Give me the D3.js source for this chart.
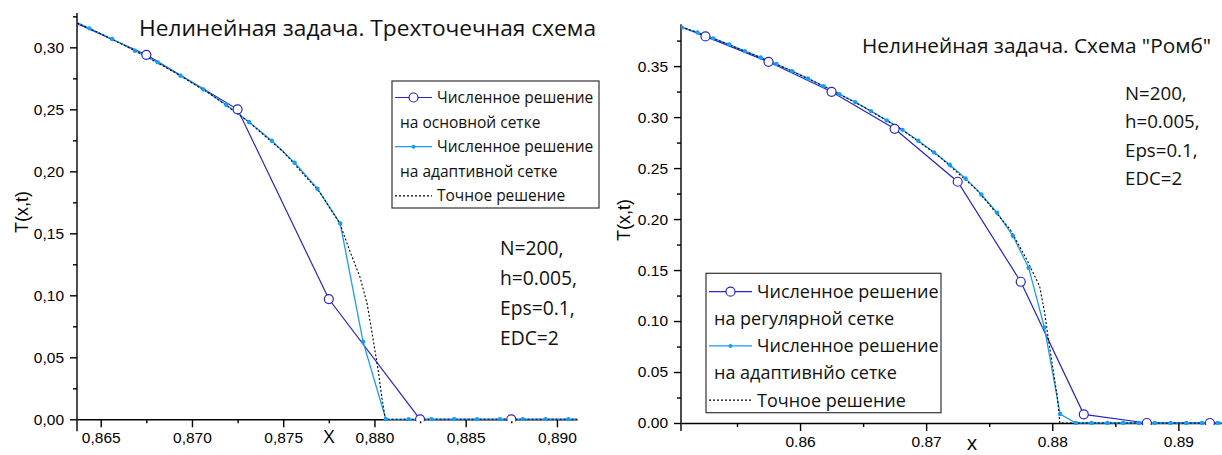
<!DOCTYPE html>
<html>
<head>
<meta charset="utf-8">
<script src="https://cdn.jsdelivr.net/npm/d3@7"></script>
<style>
body { margin: 0; background: #fff; }
svg { display: block; }
</style>
</head>
<body>
<script>
// ---- left panel: three-point scheme ----
var leftMainX = [0.8625, 0.8675, 0.8725, 0.8775, 0.8825, 0.8875, 0.8925];
var leftMainT = [0.327, 0.294, 0.250, 0.097, 0.000, 0.000, 0.000];

var leftAdaptX = [0.863125, 0.864375, 0.865625, 0.866875, 0.868125, 0.869375, 0.870625, 0.871875,
	0.873125, 0.874375, 0.875625, 0.876875, 0.878125, 0.879375, 0.880625, 0.881875,
	0.883125, 0.884375, 0.885625, 0.886875, 0.888125, 0.889375, 0.890625, 0.891875];
var leftAdaptT = [0.324, 0.3153, 0.3067, 0.2973, 0.2879, 0.2771, 0.2661, 0.2537,
	0.2398, 0.2247, 0.2069, 0.1860, 0.1579, 0.0626, 0, 0,
	0, 0, 0, 0, 0, 0, 0, 0];

var leftExactX = [0.8637, 0.8650, 0.8670, 0.8690, 0.8710, 0.8730, 0.8750, 0.8770, 0.8781,
	0.8787, 0.8792, 0.8796, 0.8799, 0.8802, 0.8804, 0.8806, 0.8920];
var leftExactT = [0.3196, 0.3110, 0.2964, 0.2803, 0.2624, 0.2412, 0.2158, 0.1832, 0.1580,
	0.1339, 0.1150, 0.0931, 0.0669, 0.0400, 0.0182, 0.0, 0.0];

var leftYTicks = [0, 0.05, 0.10, 0.15, 0.20, 0.25, 0.30];
var leftYMinor = [0.025, 0.075, 0.125, 0.175, 0.225, 0.275, 0.325];
var leftXTicks = [0.865, 0.870, 0.875, 0.880, 0.885, 0.890];
var leftXMinor = [0.8675, 0.8725, 0.8775, 0.8825, 0.8875];

// ---- right panel: "Romb" scheme ----
var rightMainX = [0.8475, 0.8525, 0.8575, 0.8625, 0.8675, 0.8725, 0.8775, 0.8825, 0.8875, 0.8925, 0.8975];
var rightMainT = [0.403, 0.3791, 0.3542, 0.3248, 0.2885, 0.2366, 0.1385, 0.0085, 0, 0, 0];

var rightAdaptX = [0.849375, 0.850625, 0.851875, 0.853125, 0.854375, 0.855625, 0.856875, 0.858125,
	0.859375, 0.860625, 0.861875, 0.863125, 0.864375, 0.865625, 0.866875, 0.868125,
	0.869375, 0.870625, 0.871875, 0.873125, 0.874375, 0.875625, 0.876875, 0.878125,
	0.879375, 0.880625, 0.881875, 0.883125, 0.884375, 0.885625, 0.886875, 0.888125,
	0.889375, 0.890625, 0.891875, 0.893125, 0.894375];
var rightAdaptT = [0.3935, 0.3879, 0.3830, 0.3772, 0.3713, 0.3647, 0.3585, 0.3520,
	0.3451, 0.3379, 0.3304, 0.3225, 0.3147, 0.3059, 0.2968, 0.2875,
	0.2768, 0.2654, 0.2532, 0.2399, 0.2242, 0.2062, 0.1836, 0.1523,
	0.0938, 0.0088, 0, 0, 0, 0, 0, 0,
	0, 0, 0, 0, 0];

var rightExactX = [0.8506, 0.8530, 0.8560, 0.8590, 0.8620, 0.8650, 0.8680, 0.8710, 0.8740,
	0.8767, 0.8780, 0.8790, 0.8794, 0.8797, 0.8801, 0.8804, 0.8806, 0.8950];
var rightExactT = [0.3885, 0.3778, 0.3628, 0.3472, 0.3296, 0.3103, 0.2884, 0.2617, 0.2289,
	0.1892, 0.1598, 0.1340, 0.1079, 0.0817, 0.0497, 0.0258, 0.0, 0.0];

var rightYTicks = [0, 0.05, 0.10, 0.15, 0.20, 0.25, 0.30, 0.35];
var rightYMinor = [0.025, 0.075, 0.125, 0.175, 0.225, 0.275, 0.325, 0.375];
var rightXTicks = [0.86, 0.87, 0.88, 0.89];
var rightXMinor = [0.855, 0.865, 0.875, 0.885];

var paramLines = ["N=200,", "h=0.005,", "Eps=0.1,", "EDC=2"];

var darkBlue = "#2525c8",
	lightBlue = "#1a9cf5",
	textFont = "'Open Sans', 'Noto Sans', sans-serif",
	tickFont = "'Liberation Sans', Arial, sans-serif";

var svg = d3.select("body").append("svg")
	.attr("width", 1222)
	.attr("height", 455);

function zip(xs, ys){
	return xs.map(function(x, i){ return {x: x, t: ys[i]}; });
}

function drawPanel(p){
	var x = d3.scaleLinear().domain(p.xDomain).range([p.left, p.right]);
	var y = d3.scaleLinear().domain(p.yDomain).range([p.bottom, p.top]);
	var g = svg.append("g");

	g.append("clipPath").attr("id", p.id + "clip")
		.append("rect")
		.attr("x", p.left).attr("y", p.top - 2)
		.attr("width", p.right - p.left).attr("height", p.bottom - p.top + 4);

	var fmt = function(f){
		return function(d){
			var s = d3.format(f)(d);
			return p.comma ? s.replace(".", ",") : s;
		};
	};

	// axes
	var yAxis = g.append("g").attr("transform", "translate(" + p.left + ",0)")
		.call(d3.axisLeft(y).tickValues(p.yTicks).tickFormat(fmt(".2f")).tickSize(7).tickPadding(6).tickSizeOuter(0));
	g.append("g").attr("transform", "translate(" + p.left + ",0)")
		.call(d3.axisLeft(y).tickValues(p.yMinor).tickFormat("").tickSize(4).tickSizeOuter(0))
		.select(".domain").remove();
	g.append("g").attr("transform", "translate(0," + p.bottom + ")")
		.call(d3.axisBottom(x).tickValues(p.xTicks).tickFormat(fmt(p.xFmt)).tickSize(8).tickPadding(5).tickSizeOuter(0));
	g.append("g").attr("transform", "translate(0," + p.bottom + ")")
		.call(d3.axisBottom(x).tickValues(p.xMinor).tickFormat("").tickSize(4).tickSizeOuter(0))
		.select(".domain").remove();

	yAxis.select(".domain").attr("d", "M0," + p.top + "V" + (p.bottom + p.axisTail));
	g.selectAll(".domain, .tick line").attr("stroke", "#000").attr("stroke-width", 1.4);
	g.selectAll(".tick text")
		.attr("fill", "#000")
		.style("font-family", tickFont)
		.style("font-size", "15.5px");

	var plot = g.append("g").attr("clip-path", "url(#" + p.id + "clip)");
	var line = d3.line().x(function(d){ return x(d.x); }).y(function(d){ return y(d.t); });

	var exact = zip(p.exactX, p.exactT),
		adapt = zip(p.adaptX, p.adaptT),
		main = zip(p.mainX, p.mainT);

	plot.append("path").datum(main)
		.attr("d", line).attr("fill", "none")
		.attr("stroke", darkBlue).attr("stroke-width", 1.2);
	plot.append("path").datum(adapt)
		.attr("d", line).attr("fill", "none")
		.attr("stroke", lightBlue).attr("stroke-width", 1.3);
	plot.append("path").datum(exact)
		.attr("d", line).attr("fill", "none")
		.attr("stroke", "#000").attr("stroke-width", 1.1)
		.attr("stroke-dasharray", "2,2");
	plot.selectAll(".dot").data(adapt).enter().append("circle")
		.attr("cx", function(d){ return x(d.x); })
		.attr("cy", function(d){ return y(d.t); })
		.attr("r", 2.2).attr("fill", lightBlue);
	plot.selectAll(".ring").data(main).enter().append("circle")
		.attr("cx", function(d){ return x(d.x); })
		.attr("cy", function(d){ return y(d.t); })
		.attr("r", 4.5).attr("fill", "#fff")
		.attr("stroke", darkBlue).attr("stroke-width", 1.2);

	// axis titles
	g.append("text")
		.attr("transform", "translate(" + p.yLabel[0] + "," + p.yLabel[1] + ") rotate(-90)")
		.attr("text-anchor", "middle")
		.style("font-family", tickFont).style("font-size", "18px")
		.text("T(x,t)");
	g.append("text")
		.attr("x", p.xLabel[0]).attr("y", p.xLabel[1])
		.attr("text-anchor", "middle")
		.style("font-family", textFont).style("font-size", p.xLabelSize + "px")
		.text(p.xLabelText);

	// title
	g.append("text")
		.attr("x", p.title[0]).attr("y", p.title[1])
		.style("font-family", textFont).style("font-size", p.titleSize + "px")
		.attr("fill", "#111")
		.text(p.titleText);

	// parameters
	g.selectAll(".param").data(paramLines).enter().append("text")
		.attr("x", p.params[0])
		.attr("y", function(d, i){ return p.params[1] + i * p.params[2]; })
		.style("font-family", textFont).style("font-size", p.paramSize + "px")
		.attr("fill", "#111")
		.text(function(d){ return d; });

	// legend
	var L = p.legend;
	var lg = g.append("g");
	lg.append("rect")
		.attr("x", L.x).attr("y", L.y).attr("width", L.w).attr("height", L.h)
		.attr("fill", "#fff").attr("stroke", "#333").attr("stroke-width", 1.2);
	var rows = [
		{kind: "main", text: "Численное решение"},
		{kind: null, text: L.mainText},
		{kind: "adapt", text: "Численное решение"},
		{kind: null, text: L.adaptText},
		{kind: "exact", text: "Точное решение"}
	];
	rows.forEach(function(r, i){
		var cy = L.y + L.first + i * L.step;
		var x0 = L.x + 3, x1 = L.x + L.sample;
		if (r.kind) {
			var s = lg.append("line")
				.attr("x1", x0).attr("x2", x1).attr("y1", cy).attr("y2", cy);
			if (r.kind === "main") s.attr("stroke", darkBlue).attr("stroke-width", 1.2);
			if (r.kind === "adapt") s.attr("stroke", lightBlue).attr("stroke-width", 1.3);
			if (r.kind === "exact") s.attr("stroke", "#000").attr("stroke-width", 1.1).attr("stroke-dasharray", "2,2");
			if (r.kind === "main") lg.append("circle").attr("cx", (x0 + x1) / 2).attr("cy", cy)
				.attr("r", 4.5).attr("fill", "#fff").attr("stroke", darkBlue).attr("stroke-width", 1.2);
			if (r.kind === "adapt") lg.append("circle").attr("cx", (x0 + x1) / 2).attr("cy", cy)
				.attr("r", 2).attr("fill", lightBlue);
		}
		lg.append("text")
			.attr("x", r.kind ? x1 + 5 : L.x + 8)
			.attr("y", cy).attr("dy", "0.36em")
			.style("font-family", textFont).style("font-size", L.size + "px")
			.attr("fill", "#111")
			.text(r.text);
	});
}

drawPanel({
	id: "left", comma: true, xFmt: ".3f",
	xDomain: [0.8637, 0.8911], yDomain: [0, 0.3277],
	left: 77, right: 577, top: 13, bottom: 419.3, axisTail: 12,
	mainX: leftMainX, mainT: leftMainT,
	adaptX: leftAdaptX, adaptT: leftAdaptT,
	exactX: leftExactX, exactT: leftExactT,
	yTicks: leftYTicks, yMinor: leftYMinor, xTicks: leftXTicks, xMinor: leftXMinor,
	yLabel: [28, 212], xLabel: [329, 443], xLabelText: "X", xLabelSize: 19,
	title: [139, 36], titleSize: 22.7, titleText: "Нелинейная задача. Трехточечная схема",
	params: [500, 255, 30], paramSize: 19.3,
	legend: {x: 392, y: 81, w: 207, h: 127, first: 16.5, step: 24.6, sample: 40, size: 15.5,
		mainText: "на основной сетке", adaptText: "на адаптивной сетке"}
});

drawPanel({
	id: "right", comma: false, xFmt: ".2f",
	xDomain: [0.85056, 0.89346], yDomain: [0, 0.391],
	left: 681, right: 1222, top: 24.3, bottom: 423, axisTail: 8,
	mainX: rightMainX, mainT: rightMainT,
	adaptX: rightAdaptX, adaptT: rightAdaptT,
	exactX: rightExactX, exactT: rightExactT,
	yTicks: rightYTicks, yMinor: rightYMinor, xTicks: rightXTicks, xMinor: rightXMinor,
	yLabel: [630, 220], xLabel: [972, 450], xLabelText: "x", xLabelSize: 20,
	title: [862, 53], titleSize: 20.8, titleText: "Нелинейная задача. Схема \"Ромб\"",
	params: [1125, 100, 28.4], paramSize: 18.7,
	legend: {x: 706, y: 273.3, w: 235, h: 139.4, first: 18.4, step: 27.1, sample: 46, size: 18,
		mainText: "на регулярной сетке", adaptText: "на адаптивнйо сетке"}
});
</script>
</body>
</html>
